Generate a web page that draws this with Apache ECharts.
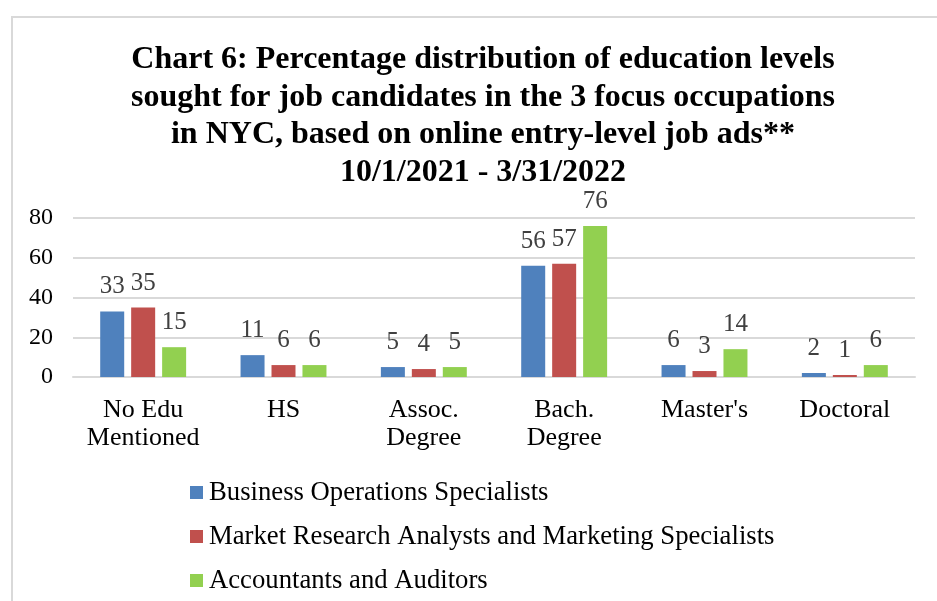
<!DOCTYPE html>
<html>
<head>
<meta charset="utf-8">
<script src="https://cdn.jsdelivr.net/npm/echarts@6/dist/echarts.min.js"></script>
<style>
  html, body { margin: 0; padding: 0; background: #fff; }
  #chart { width: 937px; height: 601px; }
</style>
</head>
<body>
<div id="chart"></div>
<script>
const categories = ["No Edu\nMentioned", "HS", "Assoc.\nDegree", "Bach.\nDegree", "Master's", "Doctoral"];
const seriesNames = [
  "Business Operations Specialists",
  "Market Research Analysts and Marketing Specialists",
  "Accountants and Auditors"
];
const businessOps = [33, 11, 5, 56, 6, 2];
const marketResearch = [35, 6, 4, 57, 3, 1];
const accountants = [15, 6, 5, 76, 14, 6];
const colors = ["#4F81BD", "#C0504D", "#92D050"];

const serif = "'Liberation Serif', 'Times New Roman', serif";

const makeSeries = (name, data, color) => ({
  name: name,
  type: "bar",
  data: data,
  barWidth: 24,
  barGap: "29%",
  itemStyle: { color: color },
  label: {
    show: true,
    position: "top",
    distance: 12,
    fontFamily: serif,
    fontSize: 25,
    color: "#404040"
  }
});

const chart = echarts.init(document.getElementById("chart"));
chart.setOption({
  animation: false,
  backgroundColor: "#fff",
  graphic: [{
    type: "rect",
    shape: { x: 12, y: 17, width: 1200, height: 1200 },
    style: { fill: "none", stroke: "#D9D9D9", lineWidth: 2 },
    silent: true
  }],
  title: {
    text: "Chart 6: Percentage distribution of education levels\nsought for job candidates in the 3 focus occupations\nin NYC, based on online entry-level job ads**\n10/1/2021 - 3/31/2022",
    left: 478,
    textAlign: "center",
    top: 36,
    textStyle: {
      fontFamily: serif,
      fontWeight: "bold",
      fontSize: 32,
      lineHeight: 37.5,
      color: "#000"
    }
  },
  legend: {
    orient: "vertical",
    left: 190,
    top: 479,
    padding: 0,
    icon: "rect",
    itemWidth: 13,
    itemHeight: 13,
    itemGap: 17,
    textStyle: {
      fontFamily: serif,
      fontSize: 26.7,
      lineHeight: 26,
      color: "#000",
      padding: [0, 0, 0, 1]
    },
    data: seriesNames
  },
  grid: {
    left: 73,
    right: 22,
    top: 218,
    bottom: 224
  },
  xAxis: {
    type: "category",
    data: categories,
    axisLine: { lineStyle: { color: "#D9D9D9", width: 2 } },
    axisTick: { show: false },
    axisLabel: {
      margin: 19,
      fontFamily: serif,
      fontSize: 26,
      lineHeight: 28,
      color: "#000",
      interval: 0
    }
  },
  yAxis: {
    type: "value",
    min: 0,
    max: 80,
    interval: 20,
    axisLine: { show: false },
    axisTick: { show: false },
    splitLine: { lineStyle: { color: "#D9D9D9", width: 2 } },
    axisLabel: {
      margin: 20,
      fontFamily: serif,
      fontSize: 24,
      color: "#000"
    }
  },
  series: [
    makeSeries(seriesNames[0], businessOps, colors[0]),
    makeSeries(seriesNames[1], marketResearch, colors[1]),
    makeSeries(seriesNames[2], accountants, colors[2])
  ]
});
</script>
</body>
</html>
